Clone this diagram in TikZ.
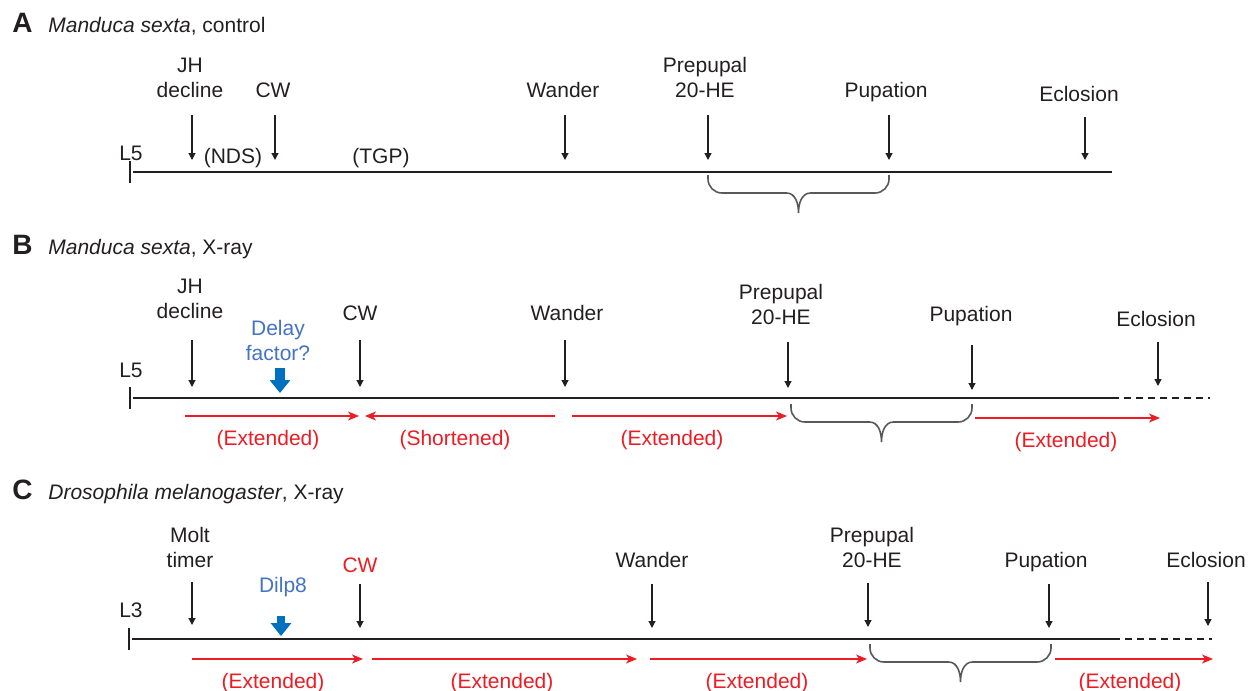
\documentclass[tikz,border=0pt]{standalone}
\usepackage{fontspec}
\setmainfont{Liberation Sans}
\usetikzlibrary{arrows.meta}
\definecolor{ink}{HTML}{231F20}
\definecolor{rd}{HTML}{ED1C24}
\definecolor{bl}{HTML}{4472C4}
\definecolor{bldark}{HTML}{0070C0}
\definecolor{brc}{HTML}{595959}

\begin{document}
\begin{tikzpicture}[x=0.5pt, y=-0.5pt,
    lbl/.style={font=\fontsize{10.5}{12.5}\selectfont, anchor=base, align=center, inner sep=0pt},
    hdr/.style={font=\fontsize{14}{16}\selectfont\bfseries, text=ink, anchor=base west, inner sep=0pt},
    ttl/.style={font=\fontsize{10.5}{12.5}\selectfont, text=ink, anchor=base west, inner sep=0pt},
    evt/.style={-{Triangle[length=3.5pt, width=3.5pt]}, line width=0.6pt, ink},
    span/.style={-{Stealth[length=5.5pt, width=4.5pt, inset=1.6pt]}, line width=0.55pt, rd},
    fac/.style={-{Triangle[length=6.5pt, width=10pt]}, line width=5pt, bldark},
    tline/.style={line width=0.7pt, ink},
    brace/.style={line width=0.8pt, brc},
]
\useasboundingbox (0,0) rectangle (1255,691);

% === PANEL HEADERS ===
\foreach \p/\y/\txt in {A/32/{\emph{Manduca sexta}, control},
                        B/254/{\emph{Manduca sexta}, X-ray},
                        C/499/{\emph{Drosophila melanogaster}, X-ray}}{
    \node[hdr] (hd\p) at (12,\y) {\p};
    \node[ttl] (tt\p) at (48,\y) {\txt};
}

% === EVENT LABELS (base = last line) ===
\foreach \nm/\x/\y/\col/\txt in {
    a-l5/131/160/ink/L5, a-jh/190/97/ink/{JH\\decline}, a-nds/233/163/ink/(NDS),
    a-cw/273/97/ink/CW, a-tgp/381/163/ink/(TGP), a-wan/563/97/ink/Wander,
    a-pre/705/97/ink/{Prepupal\\20-HE}, a-pup/886/97/ink/Pupation, a-ecl/1079/101/ink/Eclosion,
    b-l5/131/377/ink/L5, b-jh/190/318/ink/{JH\\decline}, b-dly/278/360/bl/{Delay\\factor?},
    b-cw/360/320/ink/CW, b-wan/567/320/ink/Wander, b-pre/781/324/ink/{Prepupal\\20-HE},
    b-pup/971/321/ink/Pupation, b-ecl/1156/326/ink/Eclosion,
    c-l3/131/617/ink/L3, c-mt/190/567/ink/{Molt\\timer}, c-dlp/283/592/bl/Dilp8,
    c-cw/360/572/rd/CW, c-wan/652/567/ink/Wander, c-pre/872/567/ink/{Prepupal\\20-HE},
    c-pup/1046/567/ink/Pupation, c-ecl/1206/567/ink/Eclosion%
}{
    \node[lbl, text=\col] (\nm) at (\x,\y) {\txt};
}

% === EVENT ARROWS ===
\foreach \nm/\x/\yt/\yb in {
    a1/192/115/160, a2/275/115/160, a3/565/115/160, a4/708/115/160, a5/889/115/160, a6/1085/117/160,
    b1/192/340/387, b2/360/340/387, b3/565/340/387, b4/788/342/388, b5/972/345/390, b6/1158/342/386,
    c1/192/582/625, c2/360/584/628, c3/652/584/628, c4/868/583/627, c5/1049/584/628, c6/1208/582/626%
}{
    \coordinate (\nm-t) at (\x,\yt);
    \coordinate (\nm-b) at (\x,\yb);
    \draw[evt] (\nm-t) -- (\nm-b);
}

% === TIME LINES ===
\foreach \p/\y/\xs/\xe/\xd in {a/172/133/1112/1112, b/398/133/1112/1210, c/639/132/1113/1212}{
    \coordinate (\p-s) at (\xs,\y);
    \coordinate (\p-e) at (\xe,\y);
    \coordinate (\p-d) at (\xd,\y);
    \coordinate (\p-tk1) at (\xs-3,\y-11);
    \coordinate (\p-tk2) at (\xs-3,\y+11);
    \draw[tline] (\p-s) -- (\p-e);
    \draw[tline, dash pattern=on 3.5pt off 2.5pt] (\p-e) -- (\p-d);
    \draw[tline] (\p-tk1) -- (\p-tk2);
}

% === FACTOR ARROWS (blue) ===
\draw[fac] (280,368) -- (280,393);
\draw[fac, line width=4pt] (281,616) -- (281,636);

% === BRACES ===
\foreach \l/\r/\t in {708/889/175, 791/972/404, 870/1051/644}{
    \pgfmathsetmacro\m{(\l+\r)/2}
    \draw[brace] (\l,\t) -- (\l,\t+4) to[out=-90, in=180] (\l+14,\t+18) -- (\m-12,\t+18)
        to[out=0, in=90] (\m,\t+38) to[out=90, in=180] (\m+12,\t+18)
        -- (\r-14,\t+18) to[out=0, in=-90] (\r,\t+4) -- (\r,\t);
}

% === DURATION ARROWS (red) ===
\foreach \nm/\xa/\xb/\y/\xl/\txt in {
    b-s1/185/359/416/268/(Extended), b-s2/555/365/416/455/(Shortened),
    b-s3/572/787/416/672/(Extended), b-s4/975/1160/418/1066/(Extended),
    c-s1/192/363/659/273/(Extended), c-s2/372/637/659/502/(Extended),
    c-s3/650/867/659/757/(Extended), c-s4/1055/1213/659/1130/(Extended)%
}{
    \coordinate (\nm-a) at (\xa,\y);
    \coordinate (\nm-b) at (\xb,\y);
    \draw[span] (\nm-a) -- (\nm-b);
    \node[lbl, text=rd] (\nm-l) at (\xl,\y+29) {\txt};
}

\end{tikzpicture}
\end{document}
